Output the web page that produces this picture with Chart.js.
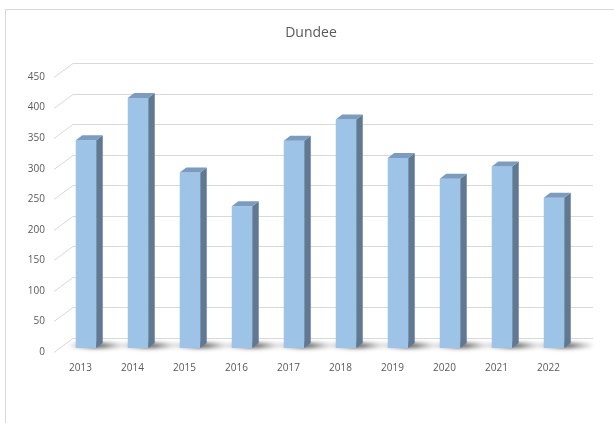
<!DOCTYPE html>
<html>
<head>
<meta charset="utf-8">
<script src="https://cdn.jsdelivr.net/npm/chart.js@4/dist/chart.umd.min.js"></script>
<style>
  html, body { margin: 0; padding: 0; background: #fff; }
  #wrap { width: 614px; height: 423px; }
</style>
</head>
<body>
<div id="wrap"><canvas id="myChart" width="614" height="423"></canvas></div>
<script>
// chart data
var years = ['2013', '2014', '2015', '2016', '2017', '2018', '2019', '2020', '2021', '2022'];
var counts = [340, 409, 287, 232, 339, 374, 311, 277, 297, 246];
var yTicks = [0, 50, 100, 150, 200, 250, 300, 350, 400, 450];

var DEPTH_X = 6.5;
var DEPTH_Y = 5;

// fake 3D: back wall, floor shadows, top and side of each bar
var fake3d = {
    id: 'fake3d',
    beforeDraw: function(chart) {
        var ctx = chart.ctx;
        ctx.save();
        ctx.fillStyle = '#ffffff';
        ctx.fillRect(0, 0, chart.width, chart.height);
        ctx.strokeStyle = '#d9d9d9';
        ctx.lineWidth = 1;
        ctx.strokeRect(5.5, 9.5, 800, 600);
        ctx.restore();
    },
    beforeDatasetsDraw: function(chart) {
        var ctx = chart.ctx;
        var area = chart.chartArea;
        var y = chart.scales.y;
        ctx.save();
        ctx.strokeStyle = '#d9d9d9';
        ctx.lineWidth = 1;
        yTicks.forEach(function(v) {
            var py = Math.round(y.getPixelForValue(v));
            ctx.beginPath();
            ctx.moveTo(area.left - 6, py + 4.5);
            ctx.lineTo(area.left + 13, py - 9.5);
            ctx.lineTo(area.right + 13, py - 9.5);
            ctx.stroke();
        });
        // soft shadows on the floor
        var meta = chart.getDatasetMeta(0);
        ctx.filter = 'blur(2px)';
        meta.data.forEach(function(bar) {
            var grad = ctx.createLinearGradient(bar.x - 20, 0, bar.x + 42, 0);
            grad.addColorStop(0, 'rgba(0,0,0,0)');
            grad.addColorStop(0.45, 'rgba(0,0,0,0.7)');
            grad.addColorStop(0.6, 'rgba(0,0,0,0.6)');
            grad.addColorStop(1, 'rgba(0,0,0,0)');
            ctx.fillStyle = grad;
            ctx.beginPath();
            ctx.ellipse(bar.x + 11, bar.base - 2.5, 29, 2.4, 0, 0, Math.PI * 2);
            ctx.fill();
        });
        ctx.restore();
    },
    afterDatasetsDraw: function(chart) {
        var ctx = chart.ctx;
        var meta = chart.getDatasetMeta(0);
        ctx.save();
        meta.data.forEach(function(bar) {
            var l = bar.x - bar.width / 2;
            var r = bar.x + bar.width / 2;
            var t = bar.y;
            var b = bar.base;
            // side
            ctx.fillStyle = '#5f7995';
            ctx.beginPath();
            ctx.moveTo(r, t);
            ctx.lineTo(r + DEPTH_X, t - DEPTH_Y);
            ctx.lineTo(r + DEPTH_X, b - DEPTH_Y);
            ctx.lineTo(r, b);
            ctx.closePath();
            ctx.fill();
            // top
            ctx.fillStyle = '#7b9bbf';
            ctx.beginPath();
            ctx.moveTo(l, t);
            ctx.lineTo(l + DEPTH_X, t - DEPTH_Y);
            ctx.lineTo(r + DEPTH_X, t - DEPTH_Y);
            ctx.lineTo(r, t);
            ctx.closePath();
            ctx.fill();
        });
        ctx.restore();
    }
};

var ctx = document.getElementById('myChart').getContext('2d');
var chart = new Chart(ctx, {
    type: 'bar',
    data: {
        labels: years,
        datasets: [{
            label: 'Dundee',
            data: counts,
            backgroundColor: '#9dc3e6',
            borderWidth: 0,
            barPercentage: 0.394,
            categoryPercentage: 1
        }]
    },
    options: {
        responsive: false,
        animation: false,
        layout: {
            padding: { left: 8, right: 0, top: 0, bottom: 0 }
        },
        plugins: {
            legend: { display: false },
            tooltip: { enabled: false },
            title: {
                display: true,
                text: 'Dundee',
                color: '#595959',
                font: { family: 'Open Sans', size: 14, weight: 'normal', lineHeight: 1.2 },
                padding: { top: 24.5, bottom: 31.7 }
            }
        },
        scales: {
            x: {
                grid: { display: false },
                border: { display: false },
                ticks: {
                    color: '#595959',
                    font: { family: 'Open Sans', size: 10 },
                    padding: 6,
                    labelOffset: -5.5,
                    maxRotation: 0
                },
                afterFit: function(scale) { scale.height = 75; }
            },
            y: {
                min: 0,
                max: 450,
                grid: { display: false },
                border: { display: false },
                ticks: {
                    stepSize: 50,
                    color: '#595959',
                    font: { family: 'Open Sans', size: 10 },
                    padding: 7,
                    labelOffset: 4
                },
                afterFit: function(scale) { scale.width = 52; }
            },
            // empty right-hand strip so the plot ends where the reference does
            spacer: {
                type: 'linear',
                position: 'right',
                grid: { display: false },
                border: { display: false },
                ticks: { display: false },
                afterFit: function(scale) { scale.width = 34; }
            }
        }
    },
    plugins: [fake3d]
});
</script>
</body>
</html>
